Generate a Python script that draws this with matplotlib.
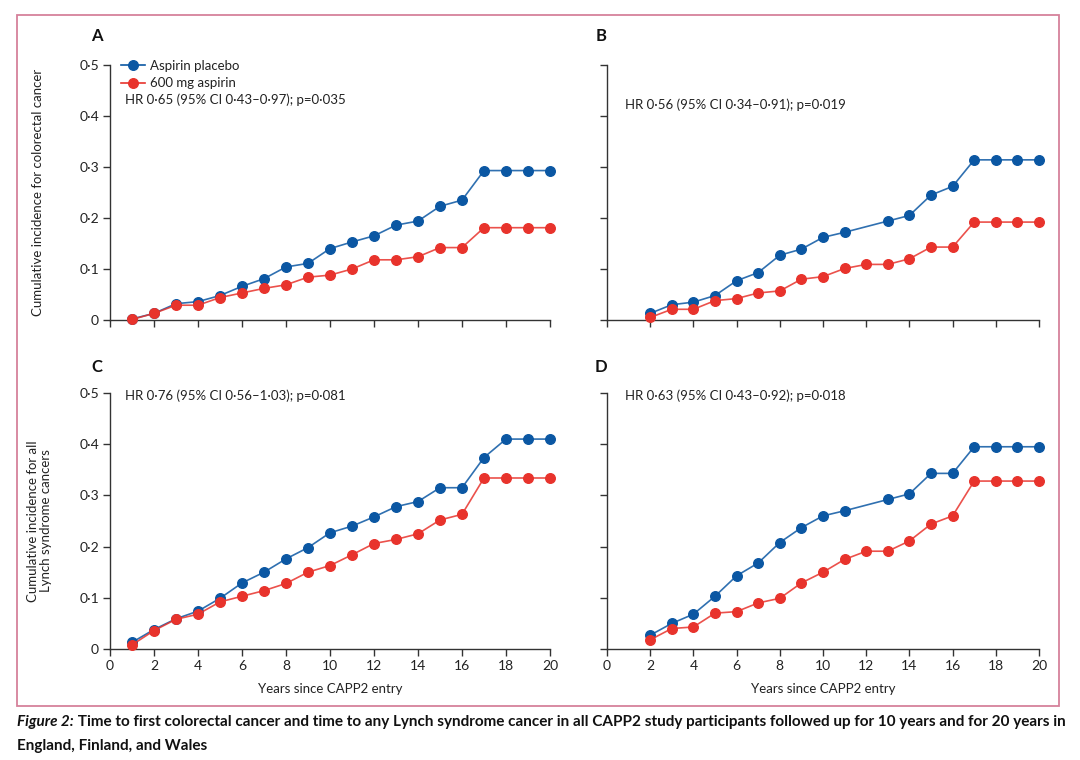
import matplotlib
matplotlib.use("Agg")
import matplotlib.pyplot as plt
from matplotlib import font_manager
from matplotlib.patches import Rectangle
from matplotlib.lines import Line2D

# ---------------- data ----------------
years_full = list(range(1, 21))
years_from2 = list(range(2, 21))
years_from2_no12 = [2, 3, 4, 5, 6, 7, 8, 9, 10, 11, 13, 14, 15, 16, 17, 18, 19, 20]

a_placebo = [0.002, 0.013, 0.032, 0.036, 0.048, 0.066, 0.081, 0.104, 0.111, 0.140,
             0.153, 0.165, 0.186, 0.194, 0.223, 0.235, 0.293, 0.293, 0.293, 0.293]
a_aspirin = [0.001, 0.013, 0.029, 0.029, 0.044, 0.053, 0.062, 0.069, 0.084, 0.088,
             0.100, 0.118, 0.118, 0.124, 0.142, 0.142, 0.181, 0.181, 0.181, 0.181]

b_placebo = [0.013, 0.030, 0.035, 0.048, 0.077, 0.093, 0.127, 0.139, 0.162, 0.172,
             0.194, 0.205, 0.245, 0.262, 0.314, 0.314, 0.314, 0.314]
b_aspirin = [0.005, 0.021, 0.021, 0.038, 0.042, 0.053, 0.057, 0.080, 0.085, 0.101,
             0.109, 0.109, 0.120, 0.143, 0.143, 0.192, 0.192, 0.192, 0.192]

c_placebo = [0.013, 0.038, 0.059, 0.074, 0.099, 0.129, 0.150, 0.176, 0.198, 0.227,
             0.240, 0.258, 0.278, 0.288, 0.315, 0.315, 0.374, 0.410, 0.410, 0.410]
c_aspirin = [0.008, 0.036, 0.058, 0.068, 0.092, 0.103, 0.114, 0.128, 0.150, 0.163,
             0.184, 0.206, 0.214, 0.225, 0.252, 0.263, 0.334, 0.334, 0.334, 0.334]

d_placebo = [0.027, 0.050, 0.068, 0.103, 0.143, 0.168, 0.208, 0.237, 0.260, 0.270,
             0.292, 0.303, 0.343, 0.343, 0.395, 0.395, 0.395, 0.395]
d_aspirin = [0.018, 0.040, 0.043, 0.070, 0.073, 0.090, 0.099, 0.129, 0.150, 0.175,
             0.191, 0.191, 0.211, 0.244, 0.260, 0.328, 0.328, 0.328, 0.328]

series_labels = ["Aspirin placebo", "600 mg aspirin"]
panel_letters = ["A", "B", "C", "D"]
hr_texts = ["HR 0\u00b765 (95% CI 0\u00b743\u20130\u00b797); p=0\u00b7035",
            "HR 0\u00b756 (95% CI 0\u00b734\u20130\u00b791); p=0\u00b7019",
            "HR 0\u00b776 (95% CI 0\u00b756\u20131\u00b703); p=0\u00b7081",
            "HR 0\u00b763 (95% CI 0\u00b743\u20130\u00b792); p=0\u00b7018"]
x_ticks = list(range(0, 21, 2))
y_ticks = [0, 0.1, 0.2, 0.3, 0.4, 0.5]
y_tick_labels = ["0", "0\u00b71", "0\u00b72", "0\u00b73", "0\u00b74", "0\u00b75"]
ylabel_top = "Cumulative incidence for colorectal cancer"
ylabel_bottom = "Cumulative incidence for all\nLynch syndrome cancers"
xlabel = "Years since CAPP2 entry"
caption_italic = "Figure 2:"
caption_rest_1 = (" Time to first colorectal cancer and time to any Lynch syndrome cancer in all "
                  "CAPP2 study participants followed up for 10 years and for 20 years in")
caption_rest_2 = "England, Finland, and Wales"

# ---------------- style ----------------
avail = {f.name for f in font_manager.fontManager.ttflist}
def pick(names):
    for n in names:
        if n in avail:
            return n
    return "DejaVu Sans"
FONT = pick(["Liberation Sans Narrow", "Lato", "Open Sans", "DejaVu Sans"])
plt.rcParams["font.family"] = [FONT, "DejaVu Sans"]

BLUE = "#0b57a3"
RED = "#e8332c"
PINK = "#d6819b"
TXT = "#222222"
FS = 9.5
MS = 6.9

fig = plt.figure(figsize=(10.8, 7.6), dpi=100)

W, H = 1080.0, 760.0
def axes_rect(x0, x1, ytop, ybot):
    return [x0 / W, 1 - ybot / H, (x1 - x0) / W, (ybot - ytop) / H]

rects = [axes_rect(110, 550, 65, 320), axes_rect(607, 1039, 65, 320),
         axes_rect(110, 550, 393, 649), axes_rect(607, 1039, 393, 649)]

panels = [
    (years_full, a_placebo, years_full, a_aspirin),
    (years_from2_no12, b_placebo, years_from2, b_aspirin),
    (years_full, c_placebo, years_full, c_aspirin),
    (years_from2_no12, d_placebo, years_from2, d_aspirin),
]

hr_pos = [(0.034, 0.863), (0.042, 0.843), (0.034, 0.99), (0.042, 0.99)]

axes = []
for i, (rect, (xb, yb, xr, yr)) in enumerate(zip(rects, panels)):
    ax = fig.add_axes(rect)
    axes.append(ax)
    ax.plot(xb, yb, color=BLUE, lw=1.2, alpha=0.85, zorder=2)
    ax.plot(xb, yb, 'o', color=BLUE, ms=MS, mec=BLUE, zorder=3, clip_on=False)
    ax.plot(xr, yr, color=RED, lw=1.2, alpha=0.85, zorder=4)
    ax.plot(xr, yr, 'o', color=RED, ms=MS, mec=RED, zorder=5, clip_on=False)
    ax.set_xlim(0, 20)
    ax.set_ylim(0, 0.5)
    for s in ["top", "right"]:
        ax.spines[s].set_visible(False)
    for s in ["left", "bottom"]:
        ax.spines[s].set_linewidth(1.0)
        ax.spines[s].set_color("#333333")
    ax.set_xticks(x_ticks)
    ax.set_yticks(y_ticks)
    ax.tick_params(axis="both", direction="out", length=5, width=1.0, color="#333333",
                   labelsize=FS + 0.5, labelcolor=TXT, pad=3)
    if i in (0, 2):
        ax.set_yticklabels(y_tick_labels)
    else:
        ax.set_yticklabels([])
    if i in (0, 1):
        ax.set_xticklabels([])
    else:
        ax.set_xticklabels([str(v) for v in x_ticks])
        ax.set_xlabel(xlabel, fontsize=FS, color=TXT, labelpad=8)
    ax.text(hr_pos[i][0], hr_pos[i][1], hr_texts[i], transform=ax.transAxes,
            fontsize=FS, color=TXT, va="center", ha="left")
    ax.text(-0.03 if i in (0, 2) else -0.014, 1.114 if i < 2 else 1.10, panel_letters[i],
            transform=ax.transAxes, fontsize=12, fontweight="bold", color="#111111",
            ha="center", va="center")

axes[0].set_ylabel(ylabel_top, fontsize=FS, color=TXT, va="center")
axes[0].yaxis.set_label_coords(-0.163, 0.5)
axes[2].set_ylabel(ylabel_bottom, fontsize=FS, color=TXT, linespacing=1.15, va="center",
                   ha="center", multialignment="center")
axes[2].yaxis.set_label_coords(-0.16, 0.5)

handles = [Line2D([], [], color=BLUE, lw=1.2, marker='o', ms=MS),
           Line2D([], [], color=RED, lw=1.2, marker='o', ms=MS)]
axes[0].legend(handles, series_labels, loc="upper left", bbox_to_anchor=(0.025, 1.02),
               frameon=False, fontsize=FS, handlelength=1.8, handletextpad=0.4,
               borderpad=0, labelspacing=0.4, borderaxespad=0, labelcolor=TXT)

# pink frame
fig.patches.append(Rectangle((17 / W, 1 - 706 / H), (1059 - 17) / W, (706 - 15) / H,
                             transform=fig.transFigure, fill=False, edgecolor=PINK,
                             lw=1.3, zorder=0))

# caption
fig.canvas.draw()
r = fig.canvas.get_renderer()
t1 = fig.text(17 / W, 1 - 722 / H, caption_italic, fontsize=11, fontweight="bold",
              fontstyle="italic", color="#111111", va="center", ha="left")
bb = t1.get_window_extent(renderer=r)
fig.text(bb.x1 / W, 1 - 722 / H, caption_rest_1, fontsize=11, fontweight="bold",
         color="#111111", va="center", ha="left")
fig.text(17 / W, 1 - 746 / H, caption_rest_2, fontsize=11, fontweight="bold",
         color="#111111", va="center", ha="left")

fig.savefig("out.png", dpi=100)
